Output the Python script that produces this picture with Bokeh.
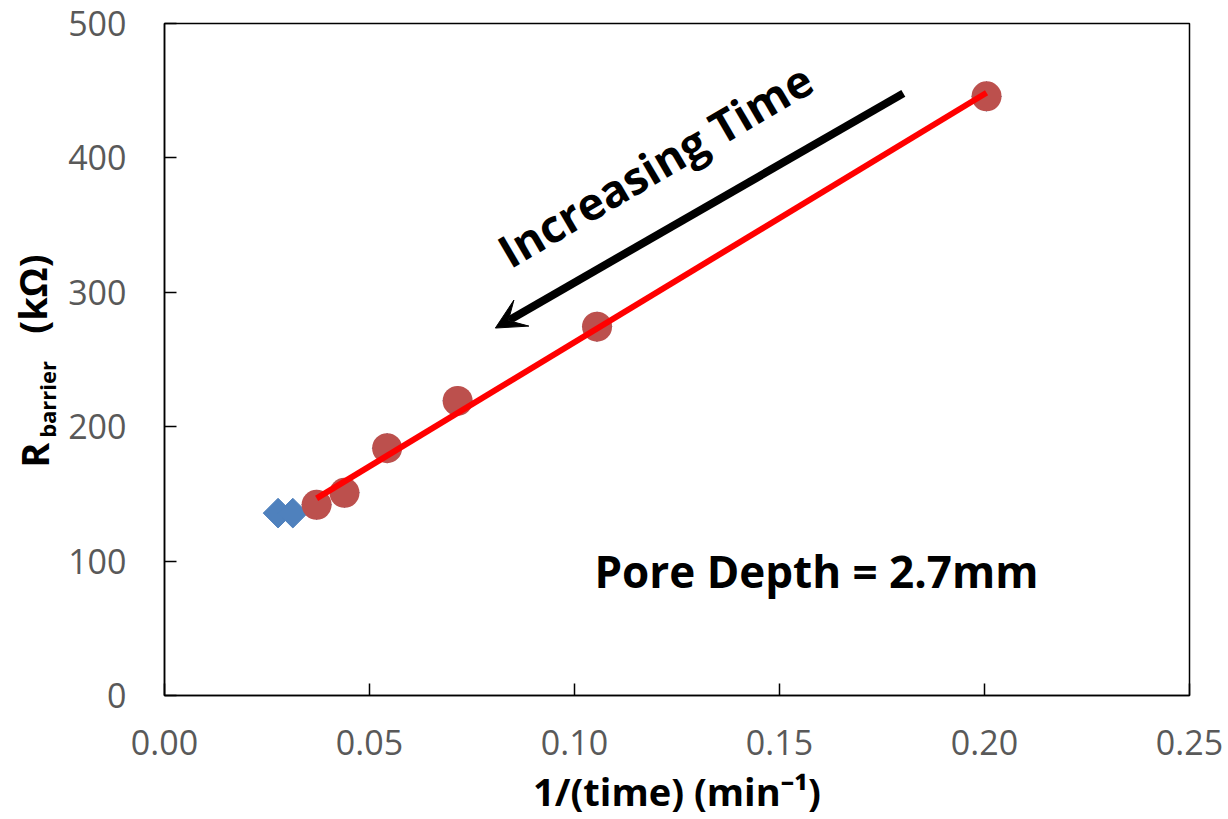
import numpy as np
from bokeh.plotting import figure
from bokeh.layouts import row
from bokeh.models import Label, Arrow, VeeHead, FixedTicker, NumeralTickFormatter, Range1d
from bokeh.embed import file_html
from bokeh.resources import INLINE

# ---- data ----
x_all = [0.0277, 0.0313, 0.0371, 0.0439, 0.0543, 0.0715, 0.1055, 0.2005]
y_all = [135.7, 135.7, 141.9, 150.8, 184.0, 219.2, 274.4, 445.8]
x_fit = [0.0371, 0.0439, 0.0543, 0.0715, 0.1055, 0.2005]
y_fit = [141.9, 150.8, 184.0, 219.2, 274.4, 445.8]
x_ticks = [0.0, 0.05, 0.10, 0.15, 0.20, 0.25]
y_ticks = [0, 100, 200, 300, 400, 500]

FONT = "Open Sans"
W_TOTAL, H = 1228, 819
W_TITLE = 64

y_range = Range1d(0, 500)

# ---- main chart ----
p = figure(width=W_TOTAL - W_TITLE, height=H, x_range=Range1d(0, 0.25), y_range=y_range,
           output_backend="svg", toolbar_location=None,
           min_border_left=164 - W_TITLE, min_border_right=W_TOTAL - 1189,
           min_border_top=23, min_border_bottom=H - 696)
p.xgrid.visible = False
p.ygrid.visible = False
p.outline_line_color = "black"
p.outline_line_width = 1.5
p.outline_line_alpha = 1.0
p.background_fill_color = "white"
p.border_fill_color = "white"

p.xaxis.ticker = FixedTicker(ticks=x_ticks)
p.xaxis.formatter = NumeralTickFormatter(format="0.00")
p.yaxis.ticker = FixedTicker(ticks=y_ticks)
for ax in (p.xaxis, p.yaxis):
    ax.major_tick_in = 12
    ax.major_tick_out = 0
    ax.minor_tick_in = 0
    ax.minor_tick_out = 0
    ax.major_tick_line_color = "black"
    ax.major_tick_line_width = 1.5
    ax.axis_line_color = "black"
    ax.axis_line_width = 1.5
    ax.major_label_text_font = FONT
    ax.major_label_text_font_size = "34px"
    ax.major_label_text_color = "#595959"
p.xaxis.major_label_standoff = 34
p.yaxis.major_label_standoff = 38

p.xaxis.axis_label = "1/(time) (min\u207b\u00b9)"
p.xaxis.axis_label_text_font = FONT
p.xaxis.axis_label_text_font_style = "bold"
p.xaxis.axis_label_text_font_size = "38px"
p.xaxis.axis_label_text_color = "black"
p.xaxis.axis_label_standoff = 7

# all points as blue diamonds (beneath)
p.scatter(x_all, y_all, marker="square", angle=np.pi / 4, size=21,
          fill_color="#4F81BD", line_color="#4F81BD")
# fitted subset as red circles
p.scatter(x_fit, y_fit, marker="circle", size=30, fill_color="#BC504D", line_color=None)
# linear trend line
coef = np.polyfit(x_fit, y_fit, 1)
xs = np.array([min(x_fit), max(x_fit)])
p.line(xs, np.polyval(coef, xs), line_color="#FF0000", line_width=6)

# arrow annotation
p.add_layout(Arrow(end=VeeHead(size=30, fill_color="black", line_color="black", line_width=1),
                   x_start=0.1802, y_start=448, x_end=0.0807, y_end=273.4,
                   line_width=8, line_color="black"))

p.add_layout(Label(x=0.1196, y=395.0, text="Increasing Time", angle=0.53,
                   text_font=FONT, text_font_style="bold", text_font_size="45px",
                   text_color="black", text_align="center", text_baseline="middle"))
p.add_layout(Label(x=0.1590, y=92.9, text="Pore Depth = 2.7mm",
                   text_font=FONT, text_font_style="bold", text_font_size="44px",
                   text_color="black", text_align="center", text_baseline="middle"))

# ---- narrow figure carrying the y-axis title (with subscript); shares the y range ----
yt = figure(width=W_TITLE, height=H, x_range=Range1d(0, W_TITLE), y_range=y_range,
            output_backend="svg", toolbar_location=None, x_axis_type=None, y_axis_type=None,
            title=None, min_border=0, min_border_left=0, min_border_right=0,
            min_border_top=23, min_border_bottom=H - 696)
yt.grid.visible = False
yt.outline_line_color = None
yt.background_fill_color = "white"
yt.border_fill_color = "white"


def vlabel(x, y, text, size):
    yt.add_layout(Label(x=x, y=y, text=text, angle=np.pi / 2,
                        text_font=FONT, text_font_style="bold", text_font_size=size,
                        text_color="black", text_align="center", text_baseline="middle"))


vlabel(33, 178.7, "R", "38px")
vlabel(46.5, 220.3, "barrier", "22px")
vlabel(31, 298.7, "(k\u03a9)", "38px")

layout = row(yt, p, spacing=0)
open("out.html", "w").write(file_html(layout, INLINE))
